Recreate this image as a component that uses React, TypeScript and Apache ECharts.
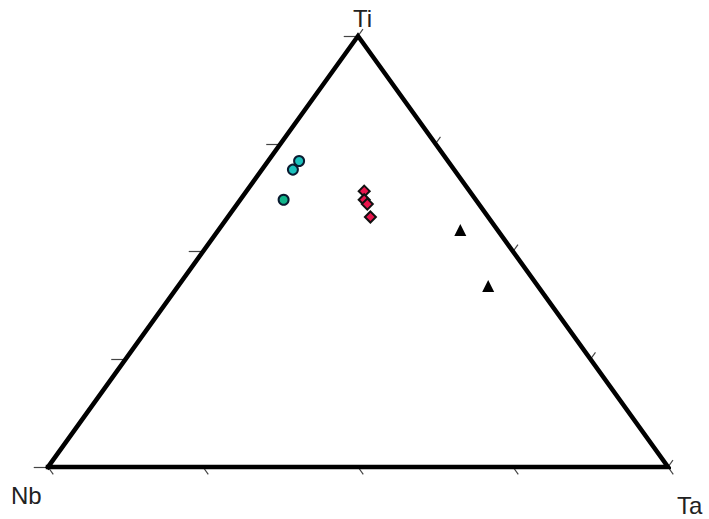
import React, { useEffect, useRef } from "react";
import * as echarts from "echarts";

type Comp = [number, number, number]; // [Nb, Ta, Ti]

const vertexLabels = ["Nb", "Ta", "Ti"];
const tickFractions = [0, 0.25, 0.5, 0.75, 1];

const cyanPoints: Comp[] = [
  [0.24, 0.05, 0.71],
  [0.26, 0.05, 0.69],
];
const greenPoints: Comp[] = [[0.31, 0.07, 0.62]];
const redPoints: Comp[] = [
  [0.17, 0.19, 0.64],
  [0.18, 0.2, 0.62],
  [0.18, 0.21, 0.61],
  [0.19, 0.23, 0.58],
];
const blackPoints: Comp[] = [
  [0.06, 0.39, 0.55],
  [0.08, 0.5, 0.42],
];

const TICK_BOTTOM = 0.017;
const TICK_LEFT = 0.023;
const TICK_RIGHT = 0.016;

function toXY(c: Comp): [number, number] {
  const [nb, ta, ti] = c;
  const s = nb + ta + ti;
  return [(ta + ti / 2) / s, ti / s];
}

function buildTicks() {
  const segs: { coords: [number, number][] }[] = [];
  tickFractions.forEach((t) => {
    segs.push({
      coords: [toXY([1 - t, t, 0]), toXY([1 - t, t + TICK_BOTTOM, -TICK_BOTTOM])],
    });
    segs.push({
      coords: [toXY([1 - t, 0, t]), toXY([1 - t + TICK_LEFT, -TICK_LEFT, t])],
    });
    segs.push({
      coords: [toXY([0, t, 1 - t]), toXY([-TICK_RIGHT, t, 1 - t + TICK_RIGHT])],
    });
  });
  return segs;
}

export default function App() {
  const ref = useRef<HTMLDivElement>(null);
  useEffect(() => {
    if (!ref.current) return;
    const chart = echarts.init(ref.current, null, { renderer: "svg" });
    const outline: Comp[] = [
      [1, 0, 0],
      [0, 1, 0],
      [0, 0, 1],
      [1, 0, 0],
    ];
    const labelStyle = {
      fontFamily: "'Liberation Sans', Arial, sans-serif",
      fontSize: 24,
      fill: "#222",
      verticalAlign: "middle" as const,
    };
    chart.setOption({
      animation: false,
      backgroundColor: "#fff",
      grid: { left: 48, right: 41, top: 36, bottom: 52 },
      xAxis: { type: "value", min: 0, max: 1, show: false },
      yAxis: { type: "value", min: 0, max: 1, show: false },
      graphic: [
        { type: "text", left: 353, top: 6, style: { ...labelStyle, text: vertexLabels[2] } },
        { type: "text", left: 11, top: 483, style: { ...labelStyle, text: vertexLabels[0] } },
        { type: "text", left: 677, top: 493, style: { ...labelStyle, text: vertexLabels[1] } },
      ],
      series: [
        {
          type: "lines",
          coordinateSystem: "cartesian2d",
          clip: false,
          silent: true,
          lineStyle: { color: "#444", width: 1.2, opacity: 1 },
          data: buildTicks(),
        },
        {
          type: "line",
          clip: false,
          symbol: "none",
          silent: true,
          lineStyle: { color: "#000", width: 4.5, join: "miter", cap: "square" },
          data: outline.map(toXY),
        },
        {
          type: "scatter",
          clip: false,
          symbol: "circle",
          symbolSize: 10,
          itemStyle: { color: "#1cc0bc", borderColor: "#0a1a30", borderWidth: 2, opacity: 1 },
          data: cyanPoints.map(toXY),
        },
        {
          type: "scatter",
          clip: false,
          symbol: "circle",
          symbolSize: 10,
          itemStyle: { color: "#12b58a", borderColor: "#0a1a30", borderWidth: 2, opacity: 1 },
          data: greenPoints.map(toXY),
        },
        {
          type: "scatter",
          clip: false,
          symbol: "diamond",
          symbolSize: 11,
          itemStyle: { color: "#e8154c", borderColor: "#111", borderWidth: 2, opacity: 1 },
          data: redPoints.map(toXY),
        },
        {
          type: "scatter",
          clip: false,
          symbol: "triangle",
          symbolSize: 12,
          itemStyle: { color: "#000", opacity: 1 },
          data: blackPoints.map(toXY),
        },
      ],
    });
    return () => chart.dispose();
  }, []);
  return (
    <div
      ref={ref}
      style={{ position: "fixed", left: 0, top: 0, width: 709, height: 519, background: "#fff" }}
    />
  );
}
